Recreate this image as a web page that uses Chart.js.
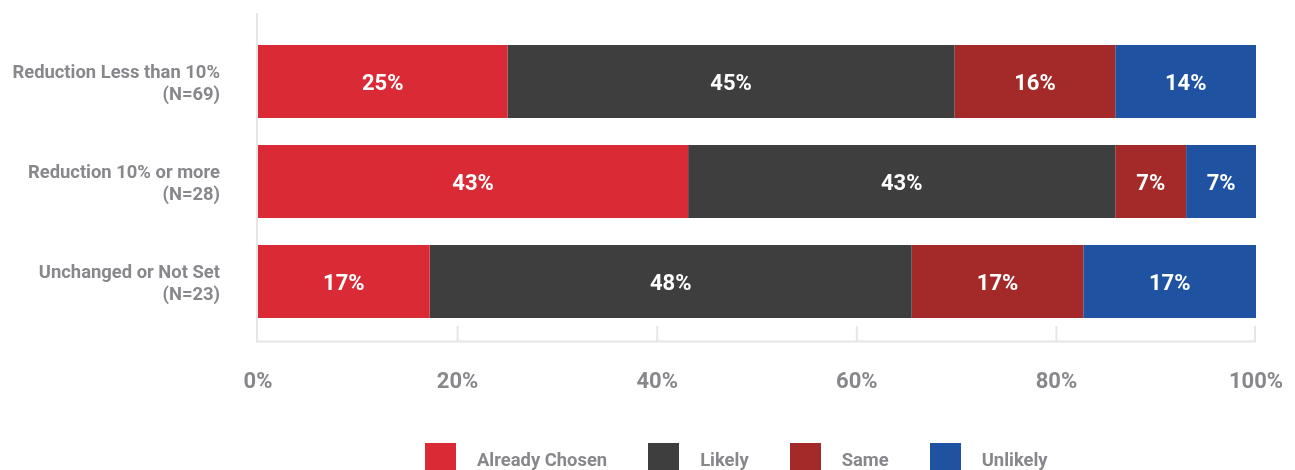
<!DOCTYPE html>
<html>
<head>
<meta charset="utf-8">
<script src="https://cdn.jsdelivr.net/npm/chart.js@4/dist/chart.umd.min.js"></script>
<style>
  html, body { margin: 0; padding: 0; background: #ffffff; }
  body { width: 1295px; height: 470px; overflow: hidden; position: relative; font-family: Roboto, "Noto Sans", sans-serif; }
  #wrap { position: absolute; left: 0; top: 0; width: 1295px; height: 470px; }
  #legend { position: absolute; left: 425px; top: 443px; display: flex; white-space: nowrap; }
  .item { display: flex; align-items: flex-start; margin-right: 41px; }
  .box { width: 31px; height: 31px; flex: none; }
  .txt { margin-left: 21px; font-weight: 700; font-size: 18.4px; line-height: 34px; color: #87878c; }
</style>
</head>
<body>
<div id="wrap"><canvas id="chart" width="1295" height="470"></canvas></div>
<div id="legend"></div>
<script>
// Survey groups (two-line axis labels)
const categories = [
  ["Reduction Less than 10%", "(N=69)"],
  ["Reduction 10% or more", "(N=28)"],
  ["Unchanged or Not Set", "(N=23)"]
];

// Share of respondents per answer, in percent
const alreadyChosen = [25.0, 43.1, 17.2];
const likely        = [44.8, 42.8, 48.3];
const same          = [16.1, 7.1, 17.2];
const unlikely      = [14.1, 7.0, 17.3];

const seriesNames = ["Already Chosen", "Likely", "Same", "Unlikely"];
const seriesColors = ["#DA2A36", "#3E3E3E", "#A32A28", "#1F53A1"];

const xTicks = [0, 20, 40, 60, 80, 100];

const GRAY = "#87878c";
const AXIS = "#e6e6e6";

// Light axis frame and short tick marks drawn behind the bars
const axisFrame = {
  id: "axisFrame",
  beforeDatasetsDraw(chart) {
    const { ctx, chartArea } = chart;
    const xs = chart.scales.x;
    const x0 = xs.getPixelForValue(0);
    const x100 = xs.getPixelForValue(100);
    const baseY = chartArea.bottom + 10;
    ctx.save();
    ctx.strokeStyle = AXIS;
    ctx.lineWidth = 2;
    // vertical axis
    ctx.beginPath();
    ctx.moveTo(x0 - 1, chartArea.top - 18.5);
    ctx.lineTo(x0 - 1, baseY + 1);
    ctx.stroke();
    // horizontal axis
    ctx.beginPath();
    ctx.moveTo(x0 - 1, baseY);
    ctx.lineTo(x100, baseY);
    ctx.stroke();
    // tick marks
    xTicks.forEach(v => {
      if (v === 0) return;
      const px = Math.min(xs.getPixelForValue(v), x100 - 1);
      ctx.beginPath();
      ctx.moveTo(px, chartArea.bottom - 5.5);
      ctx.lineTo(px, baseY);
      ctx.stroke();
    });
    ctx.restore();
  }
};

// White value labels centred in each segment
const segmentLabels = {
  id: "segmentLabels",
  afterDatasetsDraw(chart) {
    const { ctx } = chart;
    ctx.save();
    ctx.font = "700 22px Roboto";
    ctx.fillStyle = "#ffffff";
    ctx.textAlign = "center";
    ctx.textBaseline = "middle";
    chart.data.datasets.forEach((ds, di) => {
      const meta = chart.getDatasetMeta(di);
      meta.data.forEach((bar, i) => {
        const v = ds.data[i];
        const cx = (bar.x + bar.base) / 2;
        ctx.fillText(Math.round(v) + "%", cx, bar.y + 2.5);
      });
    });
    ctx.restore();
  }
};

const seriesData = [alreadyChosen, likely, same, unlikely];

const chart = new Chart(document.getElementById("chart"), {
  type: "bar",
  data: {
    labels: categories,
    datasets: seriesNames.map((name, i) => ({
      label: name,
      data: seriesData[i],
      backgroundColor: seriesColors[i],
      borderWidth: 0,
      barPercentage: 0.73,
      categoryPercentage: 1.0
    }))
  },
  options: {
    indexAxis: "y",
    responsive: false,
    animation: false,
    layout: { padding: { top: 31.5, right: 39, bottom: 0, left: 0 } },
    plugins: {
      legend: { display: false },
      tooltip: { enabled: false }
    },
    scales: {
      x: {
        stacked: true,
        min: 0,
        max: 100,
        afterBuildTicks(scale) { scale.ticks = xTicks.map(v => ({ value: v })); },
        afterFit(scale) {
          scale.height = 138.5;
          scale.paddingLeft = 0;
          scale.paddingRight = 0;
        },
        grid: { display: false, drawTicks: false },
        border: { display: false },
        ticks: {
          padding: 38,
          color: GRAY,
          font: { family: "Roboto", size: 22, weight: "700" },
          callback: v => v + "%",
          maxRotation: 0
        }
      },
      y: {
        stacked: true,
        afterFit(scale) {
          scale.width = 258;
          scale.paddingTop = 0;
          scale.paddingBottom = 0;
        },
        grid: { display: false, drawTicks: false },
        border: { display: false },
        ticks: {
          padding: 38,
          labelOffset: 3,
          color: GRAY,
          font: { family: "Roboto", size: 18.4, weight: "700", lineHeight: 1.2 }
        }
      }
    }
  },
  plugins: [axisFrame, segmentLabels]
});

// Legend built from the chart's datasets
const legendEl = document.getElementById("legend");
chart.data.datasets.forEach(ds => {
  const item = document.createElement("div");
  item.className = "item";
  const box = document.createElement("div");
  box.className = "box";
  box.style.background = ds.backgroundColor;
  const txt = document.createElement("div");
  txt.className = "txt";
  txt.textContent = ds.label;
  item.appendChild(box);
  item.appendChild(txt);
  legendEl.appendChild(item);
});
</script>
</body>
</html>
